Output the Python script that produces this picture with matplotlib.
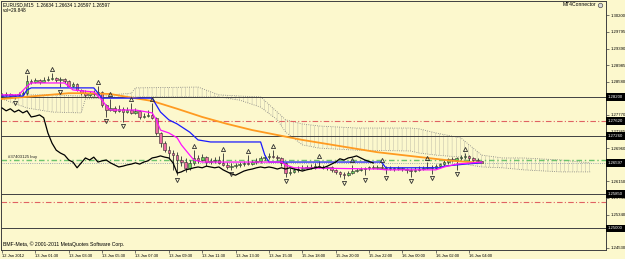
import numpy as np
import matplotlib.pyplot as plt

plt.rcParams['font.family'] = ['Liberation Sans', 'DejaVu Sans']
plt.rcParams['hatch.linewidth'] = 0.3

# EURUSD M15 candles (bar 0 = 12 Jan 2012 23:30)
opens = [1.2823, 1.2826, 1.2828, 1.2823, 1.2826, 1.2828, 1.2830, 1.2860, 1.2857, 1.2862,
         1.2857, 1.2862, 1.2865, 1.2867, 1.2862, 1.2865, 1.2860, 1.2847, 1.2852, 1.2838,
         1.2830, 1.2826, 1.2830, 1.2828, 1.2833, 1.2801, 1.2789, 1.2794, 1.2787, 1.2792,
         1.2784, 1.2789, 1.2782, 1.2787, 1.2772, 1.2774, 1.2777, 1.2770, 1.2733, 1.2708,
         1.2691, 1.2684, 1.2679, 1.2667, 1.2662, 1.2648, 1.2660, 1.2672, 1.2667, 1.2674,
         1.2662, 1.2665, 1.2667, 1.2660, 1.2655, 1.2650, 1.2652, 1.2655, 1.2657, 1.2660,
         1.2657, 1.2662, 1.2665, 1.2672, 1.2674, 1.2677, 1.2674, 1.2672, 1.2660, 1.2635,
         1.2638, 1.2643, 1.2645, 1.2648, 1.2650, 1.2648, 1.2652, 1.2650, 1.2648, 1.2650,
         1.2643, 1.2638, 1.2633, 1.2630, 1.2635, 1.2640, 1.2643, 1.2645, 1.2648, 1.2650,
         1.2648, 1.2650, 1.2648, 1.2645, 1.2648, 1.2645, 1.2648, 1.2645, 1.2643, 1.2640,
         1.2643, 1.2645, 1.2648, 1.2650, 1.2648, 1.2652, 1.2657, 1.2662, 1.2670, 1.2667,
         1.2672, 1.2674, 1.2677, 1.2672, 1.2667, 1.26634]
highs = [1.2830, 1.2833, 1.2830, 1.2828, 1.2833, 1.2835, 1.2874, 1.2865, 1.2867, 1.2865,
         1.2870, 1.2872, 1.2879, 1.2870, 1.2870, 1.2867, 1.2862, 1.2857, 1.2855, 1.2840,
         1.2838, 1.2835, 1.2838, 1.2847, 1.2835, 1.2804, 1.2816, 1.2799, 1.2801, 1.2796,
         1.2796, 1.2806, 1.2794, 1.2789, 1.2782, 1.2789, 1.2806, 1.2772, 1.2735, 1.2713,
         1.2701, 1.2691, 1.2686, 1.2677, 1.2672, 1.2667, 1.2691, 1.2679, 1.2682, 1.2677,
         1.2672, 1.2674, 1.2677, 1.2684, 1.2662, 1.2660, 1.2660, 1.2662, 1.2665, 1.2679,
         1.2667, 1.2672, 1.2677, 1.2679, 1.2684, 1.2691, 1.2679, 1.2674, 1.2662, 1.2648,
         1.2648, 1.2652, 1.2655, 1.2655, 1.2657, 1.2660, 1.2665, 1.2655, 1.2652, 1.2652,
         1.2645, 1.2640, 1.2638, 1.2640, 1.2655, 1.2648, 1.2650, 1.2650, 1.2652, 1.2655,
         1.2655, 1.2657, 1.2652, 1.2652, 1.2650, 1.2652, 1.2650, 1.2648, 1.2648, 1.2650,
         1.2652, 1.2652, 1.2662, 1.2655, 1.2657, 1.2660, 1.2667, 1.2672, 1.2674, 1.2674,
         1.2679, 1.2684, 1.2679, 1.2674, 1.2672, 1.26634]
lows = [1.2821, 1.2823, 1.2821, 1.2816, 1.2823, 1.2823, 1.2826, 1.2852, 1.2855, 1.2852,
        1.2857, 1.2860, 1.2862, 1.2857, 1.2845, 1.2855, 1.2845, 1.2845, 1.2835, 1.2826,
        1.2821, 1.2823, 1.2823, 1.2826, 1.2796, 1.2772, 1.2787, 1.2782, 1.2784, 1.2760,
        1.2782, 1.2779, 1.2779, 1.2767, 1.2770, 1.2772, 1.2767, 1.2728, 1.2699, 1.2686,
        1.2672, 1.2643, 1.2630, 1.2652, 1.2638, 1.2643, 1.2655, 1.2660, 1.2665, 1.2652,
        1.2657, 1.2660, 1.2657, 1.2652, 1.2645, 1.2643, 1.2648, 1.2650, 1.2652, 1.2655,
        1.2655, 1.2657, 1.2660, 1.2667, 1.2670, 1.2672, 1.2667, 1.2652, 1.2626, 1.2630,
        1.2635, 1.2638, 1.2643, 1.2645, 1.2645, 1.2645, 1.2648, 1.2645, 1.2643, 1.2638,
        1.2633, 1.2626, 1.2621, 1.2628, 1.2633, 1.2638, 1.2640, 1.2630, 1.2643, 1.2645,
        1.2645, 1.2645, 1.2633, 1.2643, 1.2640, 1.2643, 1.2640, 1.2635, 1.2626, 1.2638,
        1.2640, 1.2643, 1.2645, 1.2633, 1.2645, 1.2650, 1.2652, 1.2657, 1.2662, 1.2643,
        1.2667, 1.2670, 1.2665, 1.2662, 1.2662, 1.26597]
closes = [1.2826, 1.2828, 1.2823, 1.2826, 1.2828, 1.2830, 1.2860, 1.2857, 1.2862, 1.2857,
          1.2862, 1.2865, 1.2867, 1.2862, 1.2865, 1.2860, 1.2847, 1.2852, 1.2838, 1.2830,
          1.2826, 1.2830, 1.2828, 1.2833, 1.2801, 1.2789, 1.2794, 1.2787, 1.2792, 1.2784,
          1.2789, 1.2782, 1.2787, 1.2772, 1.2774, 1.2777, 1.2770, 1.2733, 1.2708, 1.2691,
          1.2684, 1.2679, 1.2667, 1.2662, 1.2648, 1.2660, 1.2672, 1.2667, 1.2674, 1.2662,
          1.2665, 1.2667, 1.2660, 1.2655, 1.2650, 1.2652, 1.2655, 1.2657, 1.2660, 1.2657,
          1.2662, 1.2665, 1.2672, 1.2674, 1.2677, 1.2674, 1.2672, 1.2660, 1.2635, 1.2638,
          1.2643, 1.2645, 1.2648, 1.2650, 1.2648, 1.2652, 1.2650, 1.2648, 1.2650, 1.2643,
          1.2638, 1.2633, 1.2630, 1.2635, 1.2640, 1.2643, 1.2645, 1.2648, 1.2650, 1.2648,
          1.2650, 1.2648, 1.2645, 1.2648, 1.2645, 1.2648, 1.2645, 1.2643, 1.2640, 1.2643,
          1.2645, 1.2648, 1.2650, 1.2648, 1.2652, 1.2657, 1.2662, 1.2670, 1.2667, 1.2672,
          1.2674, 1.2677, 1.2672, 1.2667, 1.26634, 1.26597]

# indicator lines (bar index, price)
tenkan_bars = [0, 4, 6, 7, 15, 16, 17, 22, 24, 25, 26, 32, 36, 37, 38, 40, 42, 43, 45, 46,
               48, 67, 68, 70, 90, 92, 104, 106, 109, 115]
tenkan_vals = [1.2826, 1.2826, 1.2847, 1.2855, 1.2855, 1.2847, 1.2838, 1.2833, 1.2813, 1.2799,
               1.2789, 1.2789, 1.2782, 1.2765, 1.2740, 1.2733, 1.2721, 1.2704, 1.2679, 1.2667,
               1.2662, 1.2662, 1.2655, 1.2648, 1.2645, 1.2643, 1.2643, 1.2650, 1.2657, 1.2662]
kijun_bars = [0, 5, 6, 7, 22, 24, 36, 37, 38, 40, 42, 45, 47, 50, 62, 63, 64, 91, 92, 105,
              106, 111, 115]
kijun_vals = [1.2823, 1.2823, 1.2838, 1.2843, 1.2843, 1.2818, 1.2818, 1.2801, 1.2784, 1.2765,
              1.2755, 1.2735, 1.2716, 1.2711, 1.2711, 1.2679, 1.2662, 1.2662, 1.2648, 1.2648,
              1.2652, 1.2657, 1.2660]
ma_bars = [0, 8, 16, 20, 26, 30, 36, 42, 48, 54, 60, 66, 72, 78, 84, 90, 96, 102, 108, 115]
ma_vals = [1.2816, 1.2823, 1.2830, 1.2830, 1.2828, 1.2821, 1.2811, 1.2792, 1.2772, 1.2755,
           1.2740, 1.2728, 1.2716, 1.2706, 1.2696, 1.2686, 1.2679, 1.2672, 1.2665, 1.2660]

# ichimoku cloud (shifted 26 bars forward)
cloud_bars = [0, 6, 12, 19, 20, 31, 32, 47, 52, 57, 62, 66, 68, 72, 76, 85, 98, 100, 104,
              110, 112, 115, 120, 125, 134, 141]
span_a = [1.2823, 1.2826, 1.2826, 1.2823, 1.2821, 1.2830, 1.2843, 1.2845, 1.2826, 1.2823,
          1.2821, 1.2784, 1.2765, 1.2755, 1.2750, 1.2745, 1.2745, 1.2743, 1.2733, 1.2721,
          1.2704, 1.2679, 1.2672, 1.2672, 1.2667, 1.2660]
span_b = [1.2816, 1.2794, 1.2784, 1.2782, 1.2816, 1.2821, 1.2821, 1.2821, 1.2821, 1.2813,
          1.2796, 1.2765, 1.2735, 1.2704, 1.2696, 1.2691, 1.2689, 1.2684, 1.2679, 1.2674,
          1.2655, 1.2650, 1.2648, 1.2643, 1.2638, 1.2638]

up_fractals = [6, 12, 23, 26, 31, 36, 46, 53, 59, 65, 76, 84, 91, 102, 111]
down_fractals = [3, 14, 25, 29, 42, 55, 68, 82, 87, 92, 98, 103, 109]

solid_levels = [1.2820, 1.2726, 1.2585, 1.2500]
red_levels = [1.2762, 1.2565]
order_price = 1.2667
bid = 1.26597
boxed = [1.2820, 1.2762, 1.2726, 1.26597, 1.2585, 1.2500]

# scale labels; the ones sitting under a price box are hidden by it
price_ticks = [1.30200, 1.29795, 1.29390, 1.28985, 1.28580, 1.28175, 1.27770, 1.27365,
               1.26960, 1.26555, 1.26150, 1.25745, 1.25340, 1.24935, 1.24530]
hidden_ticks = [1.28175, 1.26555, 1.24935]
time_ticks = [0, 8, 16, 24, 32, 40, 48, 56, 64, 72, 80, 88, 96, 104, 112]
time_labels = ['12 Jan 2012', '13 Jan 01:30', '13 Jan 03:30', '13 Jan 05:30', '13 Jan 07:30',
               '13 Jan 09:30', '13 Jan 11:30', '13 Jan 13:30', '13 Jan 15:30', '15 Jan 18:00',
               '15 Jan 20:00', '15 Jan 22:00', '16 Jan 00:00', '16 Jan 02:00', '16 Jan 04:00']

bg = '#fcf8cd'
W, H = 625, 259
fig = plt.figure(figsize=(W / 100, H / 100), dpi=100, facecolor=bg)
ax = fig.add_axes([1 / W, 9 / H, 605 / W, 249 / H], facecolor=bg)

# cloud
ax.fill_between(cloud_bars, span_a, span_b, facecolor='none', edgecolor='#b4b2a2',
                hatch='||||', linewidth=0, zorder=1)
ax.plot(cloud_bars, span_a, ls=':', color='#808080', lw=0.6, zorder=1)
ax.plot(cloud_bars, span_b, ls=':', color='#808080', lw=0.6, zorder=1)

# horizontal levels
for lv in solid_levels:
    ax.axhline(lv, color='#404040', lw=0.7, zorder=2)
for lv in red_levels:
    ax.axhline(lv, color='#e06262', lw=0.8, dashes=(5, 2, 1, 2), zorder=2)
ax.axhline(order_price, color='#6cc46c', lw=1.0, dashes=(4, 2, 1, 2), zorder=2)
ax.axhline(bid, color='#8090a8', lw=0.6, ls=':', zorder=2)
ax.text(1.5, order_price + 0.00015, '#37403125 buy', fontsize=3.1, color='#202020',
        va='bottom', ha='left', zorder=6)

# candles
x = np.arange(len(closes))
o = np.array(opens)
c = np.array(closes)
ax.vlines(x, lows, highs, color='#303030', lw=0.6, zorder=3)
bottom = np.minimum(o, c)
height = np.maximum(np.abs(c - o), 0.00012)
colors = ['#6ad458' if cc >= oo else '#ec6aa0' for oo, cc in zip(o, c)]
ax.bar(x, height, bottom=bottom, width=0.62, color=colors, edgecolor='#303030',
       linewidth=0.4, zorder=3)

# indicators
ax.plot(ma_bars, ma_vals, color='#ff9a20', lw=1.3, zorder=4)
ax.plot(kijun_bars, kijun_vals, color='#1a1aff', lw=0.9, zorder=4)
ax.plot(tenkan_bars, tenkan_vals, color='#ff10ff', lw=0.9, zorder=4)
ax.plot(np.arange(len(closes) - 26), closes[26:], color='black', lw=0.9, zorder=4)

# fractals
ax.plot(up_fractals, np.array(highs)[up_fractals] + 0.0011, ls='none', marker='^', ms=3,
        mfc='none', mec='#303030', mew=0.6, zorder=5)
ax.plot(down_fractals, np.array(lows)[down_fractals] - 0.0011, ls='none', marker='v', ms=3,
        mfc='none', mec='#303030', mew=0.6, zorder=5)

ax.set_xlim(-0.24, 144.8)
ax.set_ylim(1.24474, 1.30550)

ax.yaxis.tick_right()
ax.set_yticks(price_ticks)
ax.set_yticklabels(['' if v in hidden_ticks else f'{v:.5f}' for v in price_ticks])
ax.tick_params(axis='y', length=2, width=0.5, pad=1, labelsize=3.1, color='#404040')
ax.set_xticks(time_ticks)
ax.set_xticklabels(time_labels, ha='left')
ax.tick_params(axis='x', length=2, width=0.5, pad=1, labelsize=2.9, color='#404040')
for sp in ax.spines.values():
    sp.set_color('#404040')
    sp.set_linewidth(0.7)

for lv in boxed:
    ax.text(1.003, lv, f'{lv:.5f}', transform=ax.get_yaxis_transform(), ha='left',
            va='center', fontsize=3.1, color='white', clip_on=False, zorder=10,
            bbox=dict(boxstyle='square,pad=0.45', fc='black', ec='none'))

fig.text(3 / W, 1 - 5 / H, 'EURUSD,M15  1.26634 1.26634 1.26597 1.26597', fontsize=3.45,
         va='center', ha='left')
fig.text(3 / W, 1 - 10.5 / H, 'vol=29.848', fontsize=3.45, va='center', ha='left')
fig.text(563 / W, 1 - 5 / H, 'MT4Connector', fontsize=3.6, va='center', ha='left')
ax.plot([600 / W], [1 - 5 / H], marker='o', ms=3.2, mfc='#d8d8d8', mec='#505050', mew=0.5,
        transform=fig.transFigure, clip_on=False)
fig.text(3 / W, 1 - 244 / H, 'BMF-Meta, \u00a9 2001-2011 MetaQuotes Software Corp.',
         fontsize=3.7, va='center', ha='left')

fig.savefig('out.png', dpi=100, facecolor=bg)
